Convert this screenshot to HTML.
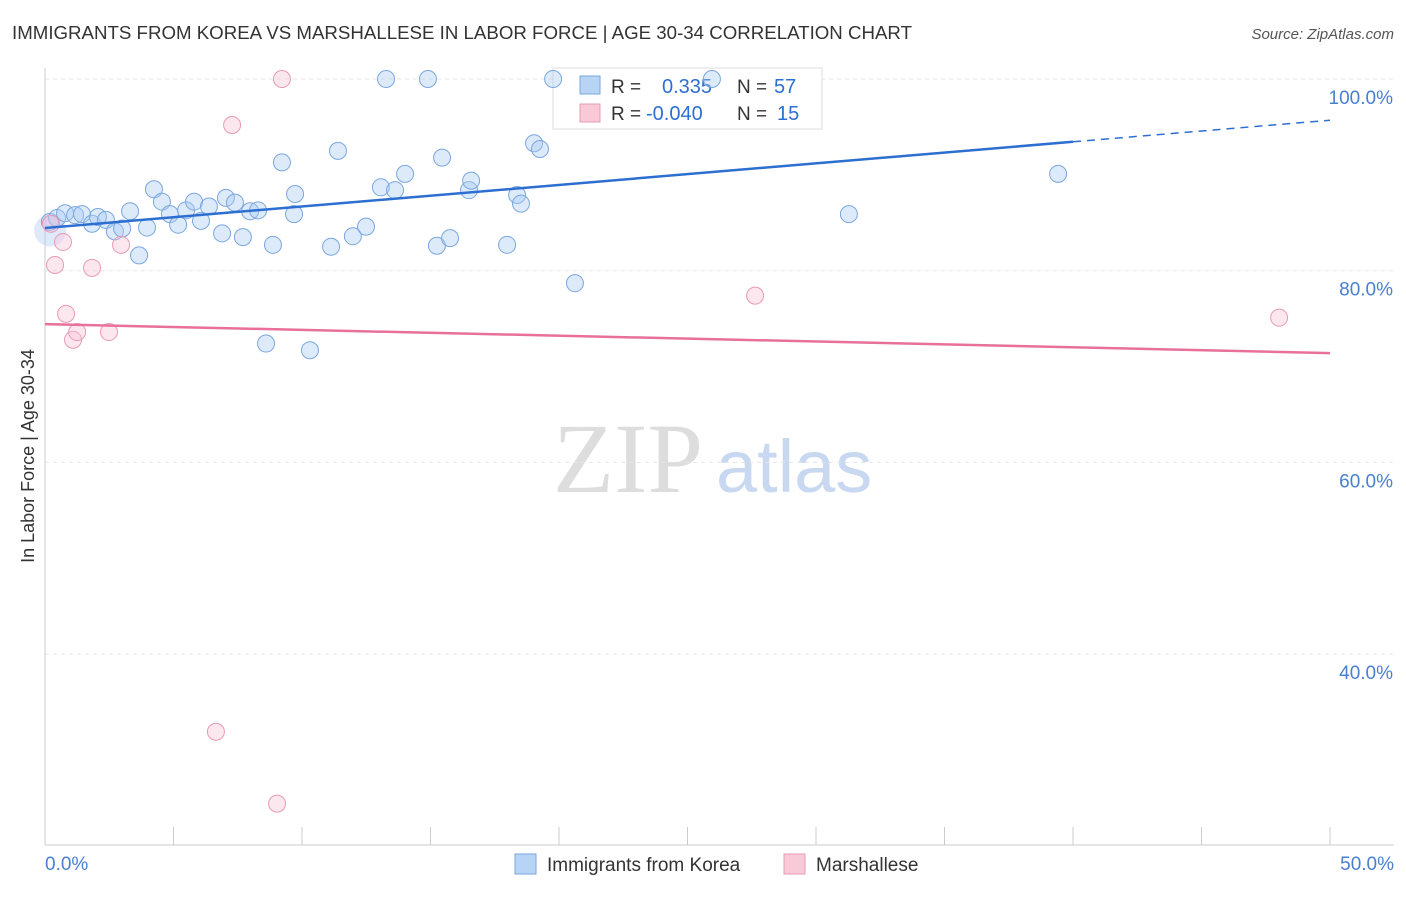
<!DOCTYPE html>
<html><head><meta charset="utf-8"><style>
body{margin:0;background:#fff;font-family:"Liberation Sans",sans-serif}
svg text{font-family:"Liberation Sans",sans-serif}
</style></head><body>
<svg width="1406" height="892" id="c">
<text x="12" y="39" font-size="18.5" fill="#333" textLength="900" lengthAdjust="spacingAndGlyphs">IMMIGRANTS FROM KOREA VS MARSHALLESE IN LABOR FORCE | AGE 30-34 CORRELATION CHART</text>
<text x="1394" y="39" font-size="15" fill="#555" font-style="italic" text-anchor="end">Source: ZipAtlas.com</text>
<text x="34" y="456" font-size="18" fill="#333" transform="rotate(-90 34 456)" text-anchor="middle">In Labor Force | Age 30-34</text>
<text x="553" y="492" font-size="100" fill="#ddd" style="font-family:'Liberation Serif',serif">ZIP</text>
<text x="716" y="492" font-size="74" fill="#c8d8f0">atlas</text>
<g id="grid"></g>
<g>
<rect x="553" y="68" width="269" height="61" fill="#fff" stroke="#ddd"/>
<rect x="580" y="76" width="20" height="18" fill="#b8d4f5" stroke="#7aa7e0"/>
<rect x="580" y="104" width="20" height="18" fill="#f9c9d8" stroke="#e89ab5"/>
<text x="611" y="93" font-size="19" fill="#333">R =</text><text x="662" y="93" font-size="20" fill="#2d6fd1">0.335</text>
<text x="737" y="93" font-size="19" fill="#333">N =</text><text x="774" y="93" font-size="20" fill="#2d6fd1">57</text>
<text x="611" y="120" font-size="19" fill="#333">R =</text><text x="646" y="120" font-size="20" fill="#2d6fd1">-0.040</text>
<text x="737" y="120" font-size="19" fill="#333">N =</text><text x="777" y="120" font-size="20" fill="#2d6fd1">15</text>
</g>
<g id="pts"></g>
<g>
<rect x="515" y="854" width="21" height="20" fill="#b8d4f5" stroke="#7aa7e0"/>
<text x="547" y="871" font-size="19" fill="#333">Immigrants from Korea</text>
<rect x="784" y="854" width="21" height="20" fill="#f9c9d8" stroke="#e89ab5"/>
<text x="816" y="871" font-size="19" fill="#333">Marshallese</text>
</g>
</svg>
<script>
const blueX=[0.19,0.47,0.78,1.17,1.44,1.83,2.06,2.37,2.72,3.0,3.31,3.66,3.97,4.24,4.55,4.86,5.18,5.49,5.8,6.07,6.38,6.89,7.04,7.39,7.7,7.98,8.29,8.87,9.22,9.69,9.73,11.13,11.4,11.98,12.49,13.07,13.27,13.62,14.01,14.9,15.25,15.45,15.76,16.5,16.58,17.98,18.37,18.52,19.03,19.26,19.77,20.62,25.95,31.28,39.42,8.6,10.31];
const blueY=[85.1,85.5,86.0,85.8,85.9,84.9,85.6,85.3,84.1,84.4,86.2,81.6,84.5,88.5,87.2,85.9,84.8,86.3,87.2,85.2,86.7,83.9,87.6,87.1,83.5,86.2,86.3,82.7,91.3,85.9,88.0,82.5,92.5,83.6,84.6,88.7,100,88.4,90.1,100,82.6,91.8,83.4,88.4,89.4,82.7,87.9,87.0,93.3,92.7,100,78.7,100,85.9,90.1,72.4,71.7];
const pinkX=[0.23,0.39,0.7,0.82,1.09,1.25,1.83,2.49,2.96,7.28,9.22,6.65,9.03,27.63,48.02];
const pinkY=[84.9,80.6,83.0,75.5,72.8,73.6,80.3,73.6,82.7,95.2,100,31.9,24.4,77.4,75.1];
const blueTrend=[84.45,95.7]; const pinkTrend=[74.43,71.4];
const yTicks=[100,80,60,40]; const yTickLabels=["100.0%","80.0%","60.0%","40.0%"];
const xTicks=[0,5,10,15,20,25,30,35,40,45,50];
const NS="http://www.w3.org/2000/svg";
const X=v=>45+v*25.7, Y=v=>79+(100-v)*9.585;
function mk(t,a,p){const e=document.createElementNS(NS,t);for(const k in a)e.setAttribute(k,a[k]);p.appendChild(e);return e;}
const g=document.getElementById('grid'),P=document.getElementById('pts');
yTicks.forEach((t,i)=>{const l=mk('line',{x1:45,x2:1394,y1:Y(t),y2:Y(t),stroke:'#e6e6e6','stroke-dasharray':'4 4'},g);

const tx=mk('text',{x:1393,y:Y(t)+25,'font-size':19,fill:'#4a7fd0','text-anchor':'end'},g);tx.textContent=yTickLabels[i];
});
const ax=mk('line',{x1:45,x2:45,y1:68,y2:845,stroke:'#ccc'},g);
const bx=mk('line',{x1:45,x2:1394,y1:845,y2:845,stroke:'#ccc'},g);
xTicks.forEach(t=>{const l=mk('line',{x1:X(t),x2:X(t),y1:827,y2:845,stroke:'#ccc'},g);});
[[0,"0.0%","start",45],[50,"50.0%","end",1394]].forEach(d=>{const t=mk('text',{x:d[3],y:870,'font-size':19,fill:'#4a7fd0','text-anchor':d[2]},g);t.textContent=d[1];});
const big=mk('circle',{cx:X(0.2),cy:Y(84.2),r:16,fill:'rgba(160,196,240,0.35)'},P);


blueX.forEach((x,i)=>{const c=mk('circle',{cx:X(x),cy:Y(blueY[i]),r:8.5,fill:'rgba(170,202,242,0.4)',stroke:'#7aa7e0','stroke-width':1},P);});
pinkX.forEach((x,i)=>{const c=mk('circle',{cx:X(x),cy:Y(pinkY[i]),r:8.5,fill:'rgba(248,195,214,0.4)',stroke:'#e89ab5','stroke-width':1},P);});
const bt=v=>blueTrend[0]+(blueTrend[1]-blueTrend[0])*v/50;
let l=mk('line',{x1:X(0),y1:Y(bt(0)),x2:X(40),y2:Y(bt(40)),stroke:'#2d6fd1','stroke-width':2.5},P);
l=mk('line',{x1:X(40),y1:Y(bt(40)),x2:X(50),y2:Y(bt(50)),stroke:'#2d6fd1','stroke-width':1.5,'stroke-dasharray':'8 6'},P);
l=mk('line',{x1:X(0),y1:Y(pinkTrend[0]),x2:X(50),y2:Y(pinkTrend[1]),stroke:'#e8709a','stroke-width':2.5},P);
</script>
</body></html>
